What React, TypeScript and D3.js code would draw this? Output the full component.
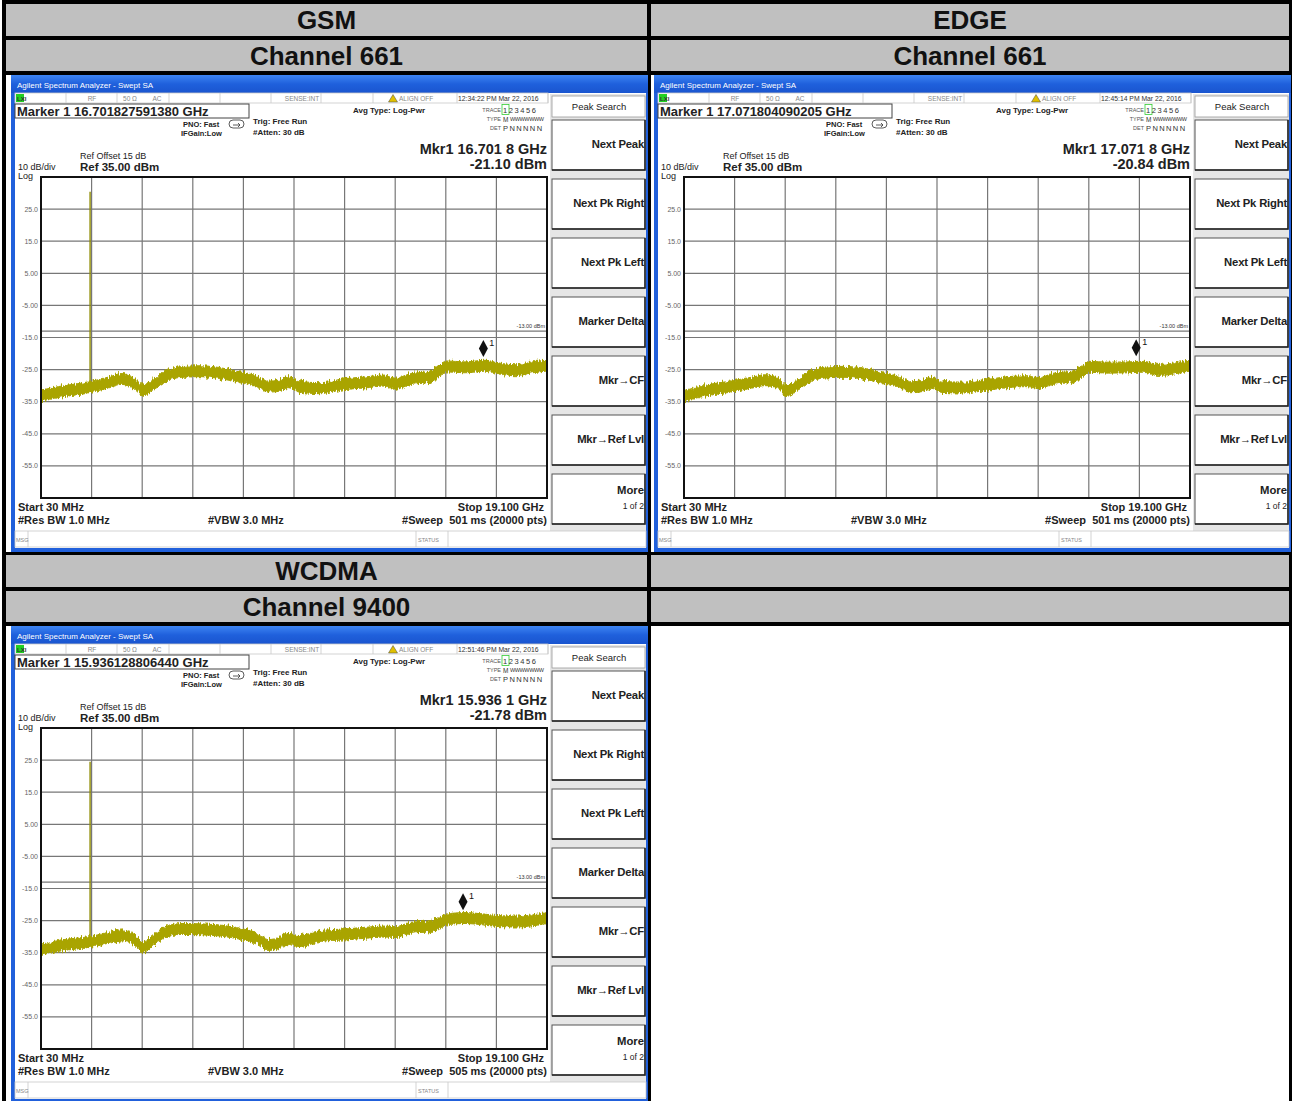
import * as d3 from "d3";

const freqGHz = [
  0.03, 0.75, 1.91, 2.63, 3.08, 3.57, 3.87, 4.25, 4.7, 5.38, 6.02, 6.78, 7.53, 8.21, 8.59, 9.04, 9.34,
  9.79, 10.55, 11.49, 12.24, 12.99, 13.37, 13.94, 14.69, 15.07, 15.29, 16.01, 16.76, 17.33, 17.9, 18.46, 19.1,
];

// trace level (dBm, middle of the noise band)
const gsmLevel = [
  -33.0, -31.8, -30.3, -28.8, -27.8, -29.4, -31.4, -29.6, -27.0, -25.6, -25.4, -26.0, -27.3, -28.7, -30.2,
  -29.9, -28.8, -30.2, -30.7, -29.4, -28.9, -28.3, -29.3, -27.9, -27.1, -25.2, -23.9, -24.2, -23.7, -24.6,
  -25.1, -24.3, -23.6,
];
const edgeLevel = [
  -33.2, -31.6, -30.0, -28.9, -28.2, -29.0, -31.6, -30.0, -27.3, -25.8, -25.6, -26.1, -27.6, -28.9, -30.4,
  -30.0, -29.0, -30.3, -30.5, -29.6, -28.8, -28.5, -29.1, -27.8, -27.0, -25.4, -24.0, -24.3, -24.2, -24.0,
  -25.0, -24.6, -23.6,
];
const wcdmaLevel = [
  -34.0, -32.7, -31.5, -30.2, -29.5, -31.0, -33.2, -31.0, -28.5, -27.5, -27.6, -28.0, -29.0, -30.6, -32.5,
  -31.8, -30.6, -31.3, -29.7, -29.2, -28.7, -28.3, -28.5, -27.2, -26.6, -25.7, -24.6, -24.1, -24.6, -25.1,
  -25.2, -24.9, -24.1,
];

const panelTitles = ["GSM", "EDGE", "WCDMA"];
const panelChannels = ["Channel 661", "Channel 661", "Channel 9400"];
const markerFreqText = ["16.701827591380", "17.071804090205", "15.936128806440"];
const markerFreqGHz = [16.7018, 17.0718, 15.9361];
const markerReadout = ["16.701 8 GHz", "17.071 8 GHz", "15.936 1 GHz"];
const markerLevel = [-21.1, -20.84, -21.78];
const clockText = ["12:34:22 PM Mar 22, 2016", "12:45:14 PM Mar 22, 2016", "12:51:46 PM Mar 22, 2016"];
const sweepMs = [501, 501, 505];
const spikeFreqGHz = 1.88;
const spikeLevel = [30.4, null, 24.5];

const yTicks = [25, 15, 5, -5, -15, -25, -35, -45, -55];
const yTickLabels = ["25.0", "15.0", "5.00", "-5.00", "-15.0", "-25.0", "-35.0", "-45.0", "-55.0"];
const softkeys = ["Next Peak", "Next Pk Right", "Next Pk Left", "Marker Delta", "Mkr\u2192CF", "Mkr\u2192Ref Lvl"];
const statusCells = [55, 106, 158, 209, 260, 310, 362, 446, 537];

const FONT = "'Liberation Sans', Arial, Helvetica, sans-serif";
const TRACE = "#a9a400";
const traces = [gsmLevel, edgeLevel, wcdmaLevel];

type Pt = { f: number; v: number };

function Analyzer({ idx, ox, oy }: { idx: number; ox: number; oy: number }) {
  const x = d3.scaleLinear().domain([0.03, 19.1]).range([30, 536]);
  const y = d3.scaleLinear().domain([35, -65]).range([102, 423]);
  const div = d3.scaleLinear().domain([0, 10]).range([30, 536]);

  const pts: Pt[] = freqGHz.map((f, i) => ({ f, v: traces[idx][i] }));
  const band = d3
    .area<Pt>()
    .x((d) => x(d.f))
    .y0((d) => y(d.v - 1.8))
    .y1((d) => y(d.v + 1.6))
    .curve(d3.curveMonotoneX);

  const mx = x(markerFreqGHz[idx]);
  const my = y(markerLevel[idx]);
  const spike = spikeLevel[idx];
  const baseAtSpike = d3.scaleLinear().domain(freqGHz).range(traces[idx])(spikeFreqGHz);

  return (
    <g transform={`translate(${ox},${oy})`} fontFamily={FONT}>
      {/* window frame */}
      <rect x={0} y={0} width={637} height={477} fill="#2160db" />
      <rect x={0} y={0} width={637} height={18} fill="url(#titleGrad)" />
      <text x={6} y={13} fontSize={8} fill="#fff">
        Agilent Spectrum Analyzer - Swept SA
      </text>
      <rect x={4} y={18} width={631} height={455} fill="#ffffff" />

      {/* status row */}
      <rect x={4} y={18} width={533} height={10} fill="#fff" stroke="#c8c8c8" strokeWidth={0.8} />
      <rect x={5} y={19} width={8} height={8} fill="#22d022" />
      <text x={6} y={26} fontSize={6} fill="#333" fontWeight="bold">LXI</text>
      {statusCells.map((cx) => (
        <line key={cx} x1={cx} x2={cx} y1={18} y2={28} stroke="#c8c8c8" strokeWidth={0.8} />
      ))}
      <g fontSize={6.5} fill="#888">
        <text x={81} y={26} textAnchor="middle">RF</text>
        <text x={119} y={26} textAnchor="middle">50 Ω</text>
        <text x={146} y={26} textAnchor="middle">AC</text>
        <text x={291} y={26} textAnchor="middle">SENSE:INT</text>
        <text x={388} y={26}>ALIGN OFF</text>
      </g>
      <path d="M382,19.5 L386.5,27 L377.5,27 Z" fill="#e0c000" stroke="#444" strokeWidth={0.5} />
      <text x={447} y={26} fontSize={6.8} fill="#333">{clockText[idx]}</text>

      {/* marker box */}
      <rect x={4} y={29} width={234} height={14} fill="#fff" stroke="#444" strokeWidth={1} />
      <text x={6} y={40.5} fontSize={13} fontWeight="bold" fill="#222">
        Marker 1 {markerFreqText[idx]} GHz
      </text>

      <g fontSize={7.5} fontWeight="bold" fill="#222">
        <text x={172} y={52}>PNO: Fast</text>
        <text x={170} y={61}>IFGain:Low</text>
      </g>
      <rect x={218} y={45} width={15} height={8} rx={4} fill="none" stroke="#333" strokeWidth={0.8} />
      <path d="M222,50 L229,50 M227,48 L229,50 L227,52" fill="none" stroke="#333" strokeWidth={0.8} />
      <g fontSize={8} fontWeight="bold" fill="#222">
        <text x={242} y={49}>Trig: Free Run</text>
        <text x={242} y={60}>#Atten: 30 dB</text>
        <text x={342} y={38}>Avg Type: Log-Pwr</text>
      </g>

      {/* trace table */}
      <g fontSize={5.5} fill="#555" textAnchor="end">
        <text x={490} y={37}>TRACE</text>
        <text x={490} y={46}>TYPE</text>
        <text x={490} y={55}>DET</text>
      </g>
      <rect x={491} y={29.5} width={7} height={10} fill="none" stroke="#3c3" strokeWidth={0.8} />
      <g fontSize={7.5} fill="#333">
        <text x={492} y={37.5} letterSpacing={1.6}>123456</text>
        <text x={492} y={46.5} fontSize={6.5}>M</text>
        <text x={499} y={46} fontSize={5.5} letterSpacing={-0.4}>WWWWWWW</text>
        <text x={492} y={55.5} letterSpacing={1.4}>PNNNNN</text>
      </g>

      {/* marker readout */}
      <g fontSize={14.5} fontWeight="bold" fill="#222" textAnchor="end">
        <text x={536} y={79}>Mkr1 {markerReadout[idx]}</text>
        <text x={536} y={94}>{markerLevel[idx].toFixed(2)} dBm</text>
      </g>

      <text x={69} y={84} fontSize={9} fill="#222">Ref Offset 15 dB</text>
      <text x={7} y={95} fontSize={9} fill="#222">10 dB/div</text>
      <text x={69} y={96} fontSize={11.5} fontWeight="bold" fill="#222">Ref 35.00 dBm</text>
      <text x={7} y={104} fontSize={9} fill="#222">Log</text>

      {/* grid */}
      {d3.range(1, 10).map((i) => (
        <line key={`v${i}`} x1={div(i)} x2={div(i)} y1={102} y2={423} stroke="#777" strokeWidth={1.2} />
      ))}
      {yTicks.map((t) => (
        <line key={`h${t}`} x1={30} x2={536} y1={y(t)} y2={y(t)} stroke="#777" strokeWidth={1.2} />
      ))}
      <line x1={30} x2={536} y1={y(-13)} y2={y(-13)} stroke="#777" strokeWidth={1.2} />
      <text x={534} y={y(-13) - 3} fontSize={5.5} fill="#333" textAnchor="end">-13.00 dBm</text>
      {yTicks.map((t, i) => (
        <text key={`l${t}`} x={27} y={y(t) + 2.5} fontSize={7} fill="#666" textAnchor="end">
          {yTickLabels[i]}
        </text>
      ))}

      {/* trace */}
      {spike !== null && (
        <line
          x1={x(spikeFreqGHz)}
          x2={x(spikeFreqGHz)}
          y1={y(spike)}
          y2={y(baseAtSpike)}
          stroke="#8f8c00"
          strokeWidth={1.4}
        />
      )}
      <g clipPath="url(#plotClip)">
        <path d={band(pts) ?? ""} fill={TRACE} stroke={TRACE} strokeWidth={1} filter="url(#noisy)" />
      </g>

      <rect x={30} y={102} width={506} height={321} fill="none" stroke="#111" strokeWidth={2} />

      {/* marker */}
      <path
        d={`M${mx},${my - 17} L${mx + 4.5},${my - 8.5} L${mx},${my} L${mx - 4.5},${my - 8.5} Z`}
        fill="#111"
      />
      <text x={mx + 6} y={my - 11} fontSize={9} fill="#111">1</text>

      {/* footer */}
      <g fontSize={11} fontWeight="bold" fill="#222">
        <text x={7} y={436}>Start 30 MHz</text>
        <text x={7} y={449}>#Res BW 1.0 MHz</text>
        <text x={197} y={449}>#VBW 3.0 MHz</text>
        <text x={533} y={436} textAnchor="end">Stop 19.100 GHz</text>
        <text x={536} y={449} textAnchor="end" xmlSpace="preserve">
          #Sweep  {sweepMs[idx]} ms (20000 pts)
        </text>
      </g>

      {/* softkeys */}
      <rect x={539} y={19} width={96} height={437} fill="#e6e6e6" />
      <rect x={541} y={21} width={93} height={21} fill="#fff" stroke="#999" strokeWidth={0.8} />
      <text x={588} y={34.5} fontSize={9.5} fill="#222" textAnchor="middle">Peak Search</text>
      {softkeys.map((k, i) => (
        <g key={k}>
          <rect x={541} y={45 + i * 59} width={93} height={50} fill="#fff" stroke="#555" strokeWidth={1} />
          <path d={`M541,${95 + i * 59} L634,${95 + i * 59} L634,${45 + i * 59}`} fill="none" stroke="#222" strokeWidth={1.5} />
          <text x={633} y={73 + i * 59} fontSize={11.3} fontWeight="bold" fill="#222" textAnchor="end" letterSpacing={-0.2}>
            {k}
          </text>
        </g>
      ))}
      <rect x={541} y={399} width={93} height={50} fill="#fff" stroke="#555" strokeWidth={1} />
      <path d="M541,449 L634,449 L634,399" fill="none" stroke="#222" strokeWidth={1.5} />
      <text x={633} y={419} fontSize={11.3} fontWeight="bold" fill="#222" textAnchor="end">More</text>
      <text x={633} y={434} fontSize={8.5} fill="#222" textAnchor="end">1 of 2</text>

      {/* message bar */}
      <rect x={4} y={456} width={631} height={16} fill="#fff" stroke="#c8c8c8" strokeWidth={0.8} />
      <line x1={17} x2={17} y1={456} y2={472} stroke="#c8c8c8" strokeWidth={0.8} />
      <line x1={405} x2={405} y1={456} y2={472} stroke="#c8c8c8" strokeWidth={0.8} />
      <line x1={437} x2={437} y1={456} y2={472} stroke="#c8c8c8" strokeWidth={0.8} />
      <text x={5} y={467} fontSize={5.5} fill="#888">MSG</text>
      <text x={407} y={467} fontSize={5.5} fill="#888">STATUS</text>
    </g>
  );
}

export default function App() {
  const W = 1292;
  const H = 1101;
  const colX = [6, 651];
  const colW = [641, 638];
  return (
    <svg
      width={W}
      height={H}
      style={{ position: "absolute", left: 0, top: 0, display: "block" }}
      fontFamily={FONT}
    >
      <defs>
        <linearGradient id="titleGrad" x1="0" x2="0" y1="0" y2="1">
          <stop offset="0" stopColor="#3d84f2" />
          <stop offset="0.5" stopColor="#1f60dc" />
          <stop offset="1" stopColor="#1a55cf" />
        </linearGradient>
        <clipPath id="plotClip">
          <rect x={30} y={102} width={506} height={321} />
        </clipPath>
        {/* rough edge for the noise band, purely a rendering effect */}
        <filter id="noisy" x="-2%" y="-40%" width="104%" height="180%">
          <feTurbulence type="fractalNoise" baseFrequency="0.7 0.08" numOctaves={2} seed={4} result="t" />
          <feDisplacementMap in="SourceGraphic" in2="t" scale={7} xChannelSelector="R" yChannelSelector="G" />
        </filter>
      </defs>
      <rect x={0} y={0} width={W} height={H} fill="#fff" />
      {/* table frame */}
      <rect x={2} y={0} width={1290} height={H} fill="#000" />

      {[0, 1].map((row) => {
        const top = row === 0 ? 4 : 555;
        return (
          <g key={row}>
            {[0, 1].map((col) => {
              const idx = row * 2 + col;
              const has = idx < 3;
              return (
                <g key={col}>
                  <rect x={colX[col]} y={top} width={colW[col]} height={32} fill="#c0c0c0" />
                  <rect x={colX[col]} y={top + 36} width={colW[col]} height={31} fill="#c0c0c0" />
                  <rect x={colX[col]} y={top + 71} width={colW[col]} height={row === 0 ? 477 : 480} fill="#fff" />
                  {has && (
                    <>
                      <text
                        x={colX[col] + colW[col] / 2}
                        y={top + 25}
                        fontSize={26}
                        fontWeight="bold"
                        textAnchor="middle"
                        fill="#111"
                      >
                        {panelTitles[idx]}
                      </text>
                      <text
                        x={colX[col] + colW[col] / 2}
                        y={top + 61}
                        fontSize={26}
                        fontWeight="bold"
                        textAnchor="middle"
                        fill="#111"
                      >
                        {panelChannels[idx]}
                      </text>
                      <Analyzer idx={idx} ox={col === 0 ? 11 : 654} oy={top + 71} />
                    </>
                  )}
                </g>
              );
            })}
          </g>
        );
      })}
    </svg>
  );
}
